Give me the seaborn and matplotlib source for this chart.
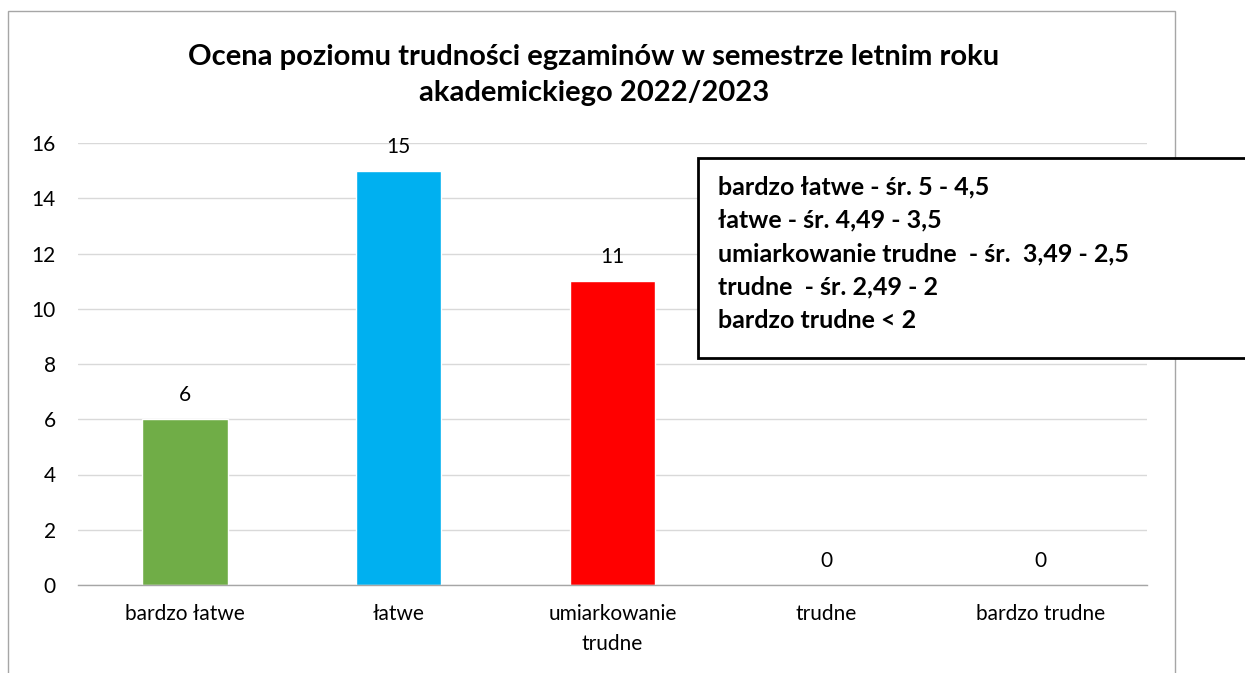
import matplotlib
matplotlib.use("Agg")
import matplotlib.pyplot as plt
from matplotlib.patches import Rectangle
import pandas as pd
import seaborn as sns

categories = ["bardzo łatwe", "łatwe", "umiarkowanie\ntrudne", "trudne", "bardzo trudne"]
counts = [6, 15, 11, 0, 0]
colors = ["#70AD47", "#00B0F0", "#FF0000", "#A5A5A5", "#5B9BD5"]
title = "Ocena poziomu trudności egzaminów w semestrze letnim roku\nakademickiego 2022/2023"
legend_lines = [
    "bardzo łatwe - śr. 5 - 4,5",
    "łatwe - śr. 4,49 - 3,5",
    "umiarkowanie trudne  - śr.  3,49 - 2,5",
    "trudne  - śr. 2,49 - 2",
    "bardzo trudne < 2",
]

sns.set_style("white")
plt.rcParams["font.family"] = ["Lato", "DejaVu Sans"]
plt.rcParams["text.color"] = "black"
plt.rcParams["xtick.labelcolor"] = "black"
plt.rcParams["ytick.labelcolor"] = "black"

df = pd.DataFrame({"kat": categories, "n": counts})

W, H = 1245, 673
fig = plt.figure(figsize=(W / 100, H / 100), dpi=100)
ax = fig.add_axes([78 / W, 88 / H, (1147 - 78) / W, (585 - 143) / H])

sns.barplot(data=df, x="kat", y="n", hue="kat", palette=colors, legend=False,
            width=0.4, saturation=1, ax=ax)

for c in ax.containers:
    ax.bar_label(c, padding=10, fontsize=15, color="black")

ax.set_ylim(0, 16)
ax.set_xlim(-0.5, 4.5)
ax.set_yticks(range(0, 17, 2))
ax.yaxis.grid(True, color="#D9D9D9", linewidth=1)
ax.set_axisbelow(True)
ax.set_xlabel("")
ax.set_ylabel("")

for s in ["top", "right", "left"]:
    ax.spines[s].set_visible(False)
ax.spines["bottom"].set_color("#A6A6A6")
ax.spines["bottom"].set_linewidth(1)

ax.tick_params(axis="y", length=0, pad=16, labelsize=15)
ax.tick_params(axis="x", which="major", length=0, pad=14, labelsize=15)
ax.set_xticks([i - 0.5 for i in range(6)], minor=True)
ax.tick_params(axis="x", which="minor", length=8, color="#A6A6A6", width=1)
for lbl in ax.get_xticklabels():
    lbl.set_linespacing(1.6)

# chart border
fig.patches.append(Rectangle((8 / W, -0.01), (1175 - 8) / W, (H - 11) / H + 0.01,
                             transform=fig.transFigure, fill=False,
                             edgecolor="#A6A6A6", linewidth=1))

fig.text(594 / W, 1 - 75 / H, title, ha="center", va="center",
         fontsize=21, fontweight="bold", linespacing=1.45)

# legend box
fig.patches.append(Rectangle((698 / W, 1 - 358 / H), (1260 - 698) / W, 200 / H,
                             transform=fig.transFigure, facecolor="white",
                             edgecolor="black", linewidth=2, zorder=5))
for i, line in enumerate(legend_lines):
    fig.text(718 / W, 1 - (187 + i * 33.3) / H, line, ha="left", va="center",
             fontsize=18, fontweight="bold", zorder=6)

fig.savefig("out.png", dpi=100)
